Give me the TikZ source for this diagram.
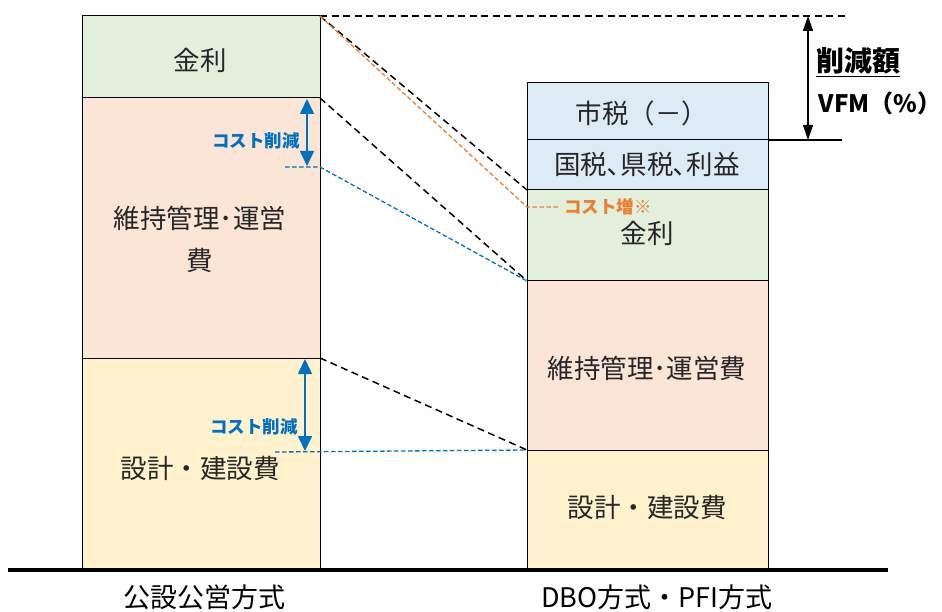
\documentclass[tikz,border=0pt]{standalone}
\usepackage{fontspec}
\setmainfont{Noto Sans CJK JP}
\usetikzlibrary{arrows.meta}
\definecolor{cgreen}{HTML}{E2EFDA}
\definecolor{cpink}{HTML}{FBE5D6}
\definecolor{cyellow}{HTML}{FFF2CC}
\definecolor{cblue}{HTML}{DDEBF7}
\definecolor{aBlue}{HTML}{0070C0}
\definecolor{aOrange}{HTML}{ED7D31}
\tikzset{
  box/.style={draw=black, line width=1pt, inner sep=0pt, outer sep=0pt},
  lbl/.style={font=\fontsize{26.5}{28}\selectfont, inner sep=0pt, text=black!85},
  small/.style={font=\fontsize{17.5}{18}\selectfont\bfseries, inner sep=0pt},
  bdash/.style={black, line width=1.5pt, dash pattern=on 7pt off 4.5pt},
  cdash/.style={line width=1.3pt, dash pattern=on 4.5pt off 2.5pt},
  barrow/.style={aBlue, line width=1.6pt, {Triangle[length=15pt,width=14pt]}-{Triangle[length=15pt,width=14pt]}},
  karrow/.style={black, line width=1.3pt, {Triangle[length=15pt,width=10pt]}-{Triangle[length=15pt,width=10pt]}}
}
\begin{document}
\begin{tikzpicture}[x=1pt,y=-1pt]
\useasboundingbox (0,0) rectangle (942,612);
% left column
\node[box, fill=cgreen, minimum width=238pt, minimum height=82pt] (L1) at (201,57) {};
\node[box, fill=cpink, minimum width=238pt, minimum height=260pt] (L2) at (201,228) {};
\node[box, fill=cyellow, minimum width=238pt, minimum height=210pt] (L3) at (201,463) {};
% right column
\node[box, fill=cblue, minimum width=241pt, minimum height=57pt] (R1) at (647.5,111.5) {};
\node[box, fill=cblue, minimum width=241pt, minimum height=50pt] (R2) at (647.5,165) {};
\node[box, fill=cgreen, minimum width=241pt, minimum height=91pt] (R3) at (647.5,235.5) {};
\node[box, fill=cpink, minimum width=241pt, minimum height=169pt] (R4) at (647.5,365.5) {};
\node[box, fill=cyellow, minimum width=241pt, minimum height=118pt] (R5) at (647.5,509) {};
% texts
\node[lbl] (tL1) at (200,60) {金利};
\node[lbl] (tL2a) at (200,218) {維持管理･運営};
\node[lbl] (tL2b) at (200,260) {費};
\node[lbl] (tL3) at (200,468) {設計・建設費};
\node[lbl] (tR1) at (642,113) {市税（－）};
\node[lbl] (tR2) at (647,164) {国税､県税､利益};
\node[lbl] (tR3) at (647,233) {金利};
\node[lbl] (tR4) at (647,368) {維持管理･運営費};
\node[lbl] (tR5) at (647,507) {設計・建設費};
% ground line
\coordinate (g1) at (8,570);
\coordinate (g2) at (888,570);
\draw[line width=4.5pt] (g1) -- (g2);
\node[font=\fontsize{27}{28}\selectfont, inner sep=0pt] (b1) at (204,597) {公設公営方式};
\node[font=\fontsize{27}{28}\selectfont, inner sep=0pt] (b2) at (657,597) {DBO方式・PFI方式};
% top reference line
\coordinate (t2) at (848,16);
\draw[bdash] (L1.north east) -- (t2);
\coordinate (s2) at (842,140);
\draw[line width=1.3pt] (R1.south east) -- (s2);
\coordinate (a1) at (808,16);
\coordinate (a2) at (808,140);
\draw[karrow] (a1) -- (a2);
\node[font=\fontsize{28}{30}\selectfont\bfseries, inner sep=0pt] (sak) at (858,62) {\underline{削減額}};
\node[font=\fontsize{24}{25}\selectfont\bfseries, inner sep=0pt] (vfm) at (880,103) {VFM（\%）};
% black dashed connectors
\draw[bdash] (L1.north east) -- (R3.north west);
\draw[bdash] (L1.south east) -- (R4.north west);
\draw[bdash] (L2.south east) -- (R5.north west);
% orange
\coordinate (o1) at (527,207);
\coordinate (o2) at (560,207);
\draw[cdash, aOrange] (L1.north east) -- (o1) -- (o2);
\node[small, text=aOrange, anchor=west] (oc) at (564,207) {コスト増※};
% blue upper
\coordinate (bu0) at (285,167);
\coordinate (bu1) at (320,167);
\draw[cdash, aBlue] (bu0) -- (bu1) -- (R4.north west);
\coordinate (ua1) at (307,99);
\coordinate (ua2) at (307,166);
\draw[barrow] (ua1) -- (ua2);
\node[small, text=aBlue] (ucl) at (256,141) {コスト削減};
% blue lower
\coordinate (bl0) at (275,452);
\draw[cdash, aBlue] (bl0) -- (R5.north west);
\coordinate (la1) at (305,359);
\coordinate (la2) at (305,451);
\draw[barrow] (la1) -- (la2);
\node[small, text=aBlue] (lcl) at (254,427) {コスト削減};
\end{tikzpicture}
\end{document}
